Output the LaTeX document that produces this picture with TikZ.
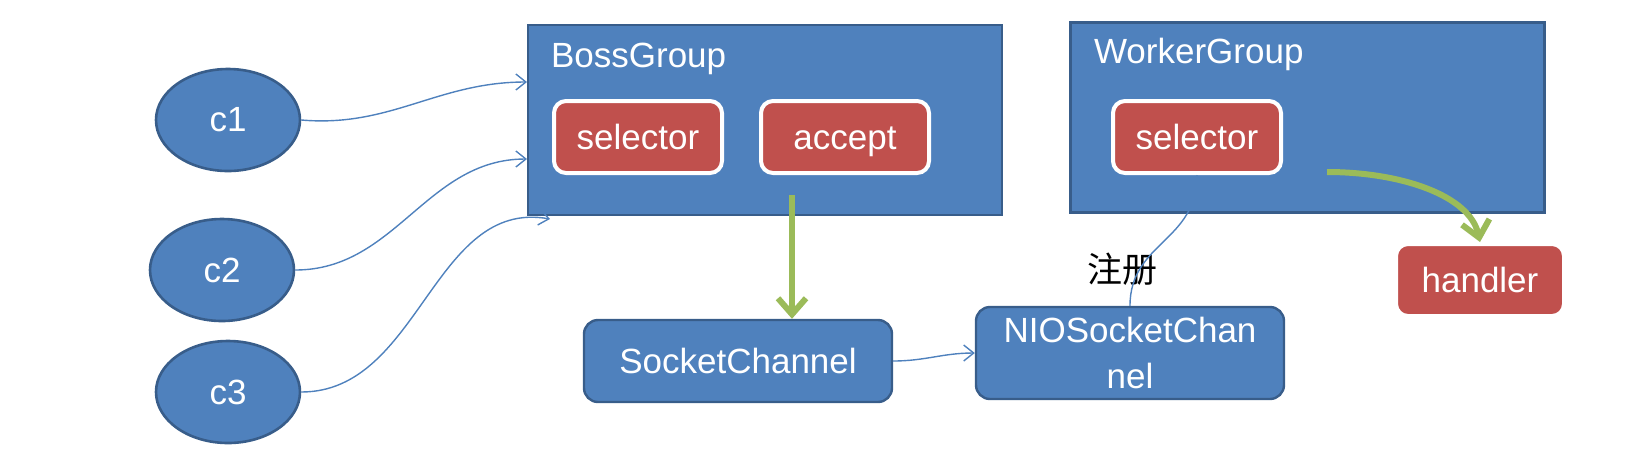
\documentclass[tikz,border=0pt]{standalone}
\usepackage{fontspec}
\setmainfont{Liberation Sans}
\newfontfamily\cjk{Noto Sans CJK SC}
\usetikzlibrary{shapes.geometric,arrows.meta}
\definecolor{nblue}{HTML}{4F81BD}
\definecolor{nborder}{HTML}{385D8A}
\definecolor{nred}{HTML}{C0504D}
\definecolor{ngreen}{HTML}{9BBB59}

\begin{document}
\begin{tikzpicture}[x=0.5pt,y=0.5pt,yscale=-1,xscale=1,
	every node/.style={font=\fontsize{17.5}{23}\selectfont},
	client/.style={ellipse,fill=nblue,draw=nborder,line width=1.3pt,text=white,minimum width=72pt,minimum height=51pt},
	group/.style={rectangle,fill=nblue,draw=nborder,line width=1.2pt,minimum width=237pt,minimum height=95pt},
	chan/.style={rectangle,rounded corners=7pt,fill=nblue,draw=nborder,line width=1.2pt,text=white,align=center,minimum width=154pt},
	redbox/.style={rectangle,rounded corners=6pt,fill=nred,draw=white,line width=2pt,text=white,minimum width=84pt,minimum height=36pt,text height=14pt,text depth=1.5pt},
	wire/.style={draw=nblue,line width=0.7pt},
	tip/.style={-{Straight Barb[length=5pt,width=8pt]}},
	flow/.style={draw=ngreen,line width=3pt,-{Straight Barb[length=8pt,width=14pt]}}
	]
	%set diagram size to 1634 x 473
	\useasboundingbox (0,0) rectangle (1634,473);
	
	% clients
	\node[client] (c1) at (228,120) {c1};
	\node[client] (c2) at (222,270) {c2};
	\node[client] (c3) at (228,392) {c3};
	
	% groups
	\node[group] (boss) at (765,120) {};
	\node[group] (worker) at (1307.5,117.5) {};
	\node[anchor=base west,text=white] (bossname) at (544,67) {BossGroup};
	\node[anchor=base west,text=white] (workername) at (1087,63) {WorkerGroup};
	\node[redbox] (bsel) at (638,137) {selector};
	\node[redbox] (acc) at (845,137) {accept};
	\node[redbox] (wsel) at (1197,137) {selector};
	\node[redbox] (hdl) at (1480,280) {handler};
	
	% channels
	\node[chan,minimum height=41pt] (sock) at (738,361) {SocketChannel};
	\node[chan,minimum height=46pt] (nio) at (1130,353) {NIOSocketChan\\nel};
	\node[text=black] (reg) at (1122,269) {\cjk 注册};
	
	\coordinate (b1) at (527,82);
	\coordinate (b2) at (527,159);
	\coordinate (b3) at (550,219);
	\coordinate (gs) at (792,195);
	\coordinate (ws) at (1327,172);
	
	% connectors
	\draw[wire,tip] (c1.east) to[out=5,in=180] (b1);
	\draw[wire,tip] (c2.east) to[out=0,in=180] (b2);
	\draw[wire,tip] (c3.east) to[out=0,in=190] (b3);
	\draw[wire,tip] (sock.east) to[out=0,in=180] (nio.west);
	\draw[wire] (wsel.south) .. controls (1197,242) and (1130,242) .. (nio.north);
	\draw[flow] (gs) -- (gs |- sock.north);
	\draw[flow] (ws) .. controls (1400,172) and (1470,195) .. (hdl.north);
\end{tikzpicture}
\end{document}
